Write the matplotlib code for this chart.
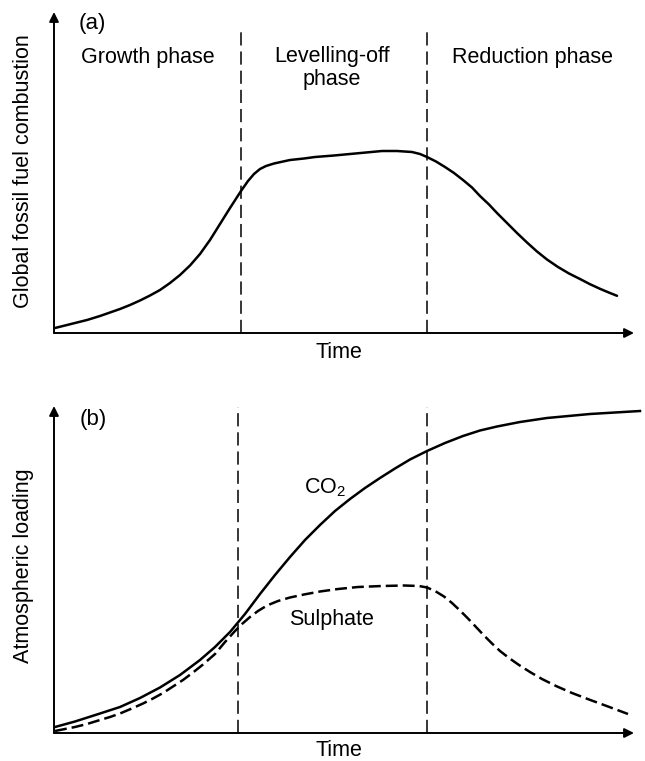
import matplotlib
matplotlib.use("Agg")
import matplotlib.pyplot as plt
import numpy as np

plt.rcParams['font.family'] = ['Liberation Sans', 'DejaVu Sans']
plt.rcParams['lines.scale_dashes'] = False

# (a) global fossil fuel combustion vs time (arbitrary units)
fuel_t = [1, 11, 21, 33, 46, 56, 66, 76, 86, 96, 106, 116, 126, 136, 146, 156, 166,
          176, 187, 194, 200, 206, 212, 220, 236, 250, 261, 280, 296, 312, 328, 343,
          358, 366, 373, 382, 391, 400, 409, 418, 426, 435, 443, 453, 463, 473, 483,
          493, 504, 515, 526, 536, 546, 555, 563]
fuel_v = [5, 7.5, 10, 13, 17, 20.5, 24, 28, 32.5, 37.5, 43, 50, 58, 67.5, 79, 93, 109,
          125, 142, 152, 159, 164, 167, 169.5, 173, 174.5, 176, 177.5, 179, 180.5, 182, 182,
          181, 179, 176, 171.5, 166, 160, 153, 145.5, 137, 128.5, 120, 110, 100, 90.5, 81.5,
          73.5, 66, 59.5, 54, 48.8, 44.2, 40.4, 37.2]

# (b) atmospheric loading
co2_t = [1, 21, 46, 66, 86, 106, 126, 146, 161, 176, 191, 206, 221, 236, 251, 266,
         281, 296, 311, 326, 341, 356, 373, 391, 409, 426, 443, 466, 493, 536, 586]
co2_v = [6, 11.5, 19.5, 26, 35, 45.5, 58, 73, 86, 101, 119, 139, 158, 176, 193, 208,
         222, 234, 245, 255, 264.5, 273.5, 282, 290, 297, 302.5, 306.5, 311, 315, 319, 322]

sulph_t = [1, 11, 21, 33, 46, 56, 66, 79, 89, 99, 109, 119, 129, 139, 149, 161, 171,
           181, 188, 196, 204, 213, 224, 236, 250, 266, 284, 304, 328, 350, 365, 373,
           381, 390, 398, 406, 414, 422, 430, 438, 446, 455, 465, 476, 488, 502, 518,
           535, 554, 574]
sulph_v = [2, 4, 6, 9, 13, 16, 19.5, 25, 29.5, 34.5, 40, 46.5, 53, 60.5, 68.5, 79, 91,
           102, 109, 116, 122, 127.5, 132, 135.5, 138.5, 141.5, 144, 146, 147, 147.5, 147, 145.5,
           142, 136.5, 130, 122.5, 114.5, 106, 97.5, 89.5, 82, 75, 68, 61, 54, 47, 40,
           33.5, 26.5, 19]

phase_a = [187, 373]
phase_b = [184, 373]
phase_labels = ["Growth phase", "Levelling-off\nphase", "Reduction phase"]

fig = plt.figure(figsize=(6.45, 7.61), dpi=100)
ax_a = fig.add_axes([54/645, 428/761, 586/645, 321/761])
ax_b = fig.add_axes([54/645, 28/761, 586/645, 327/761])

fs = 15.5
arrow = dict(arrowstyle='-|>', color='black', lw=1.4, mutation_scale=14,
             shrinkA=0, shrinkB=0)


def draw_axes(ax, ytop, xtop, ytime):
    ax.set_xlim(0, 586)
    ax.set_ylim(0, ytop)
    ax.axis('off')
    ax.annotate('', xy=(0, ytop), xytext=(0, 0), arrowprops=arrow, annotation_clip=False)
    ax.annotate('', xy=(xtop, 0), xytext=(0, 0), arrowprops=arrow, annotation_clip=False)
    ax.text(xtop / 2 - 5, ytime, "Time", fontsize=fs, ha='center', va='center')


draw_axes(ax_a, 321, 580, -20)
for t in phase_a:
    ax_a.plot([t, t], [0, 303], color='black', lw=1.1, dashes=(9.5, 4.3))
ax_a.plot(np.array(fuel_t), np.array(fuel_v), color='black', lw=1.8,
          solid_joinstyle='round', solid_capstyle='round')
ax_a.text(38, 310, "(a)", fontsize=16, ha='center', va='center')
ax_a.text(94, 276, phase_labels[0], fontsize=fs, ha='center', va='center')
ax_a.text(278, 265, phase_labels[1], fontsize=fs, ha='center', va='center', linespacing=1.12)
ax_a.text(478, 276, phase_labels[2], fontsize=fs, ha='center', va='center')

draw_axes(ax_b, 327, 580, -17.5)
for t in phase_b:
    ax_b.plot([t, t], [0, 326], color='black', lw=1.1, dashes=(9.5, 4.3))
ax_b.plot(np.array(co2_t), np.array(co2_v), color='black', lw=1.8, clip_on=False,
          solid_joinstyle='round')
ax_b.plot(np.array(sulph_t), np.array(sulph_v), color='black', lw=1.8, dashes=(8.6, 3.6))
ax_b.text(39, 313, "(b)", fontsize=16, ha='center', va='center')
ax_b.text(271, 245, r"CO$_\mathregular{2}$", fontsize=fs, ha='center', va='center')
ax_b.text(278, 113, "Sulphate", fontsize=fs, ha='center', va='center')

fig.text(24/645, 1 - 171/761, "Global fossil fuel combustion", fontsize=fs,
         rotation=90, ha='center', va='center')
fig.text(24/645, 1 - 566/761, "Atmospheric loading", fontsize=fs,
         rotation=90, ha='center', va='center')

fig.savefig("out.png", dpi=100, facecolor='white')
